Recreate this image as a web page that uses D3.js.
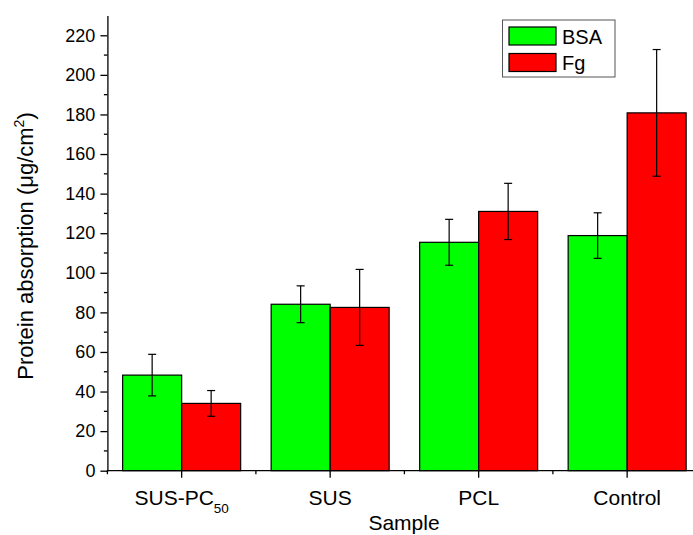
<!DOCTYPE html>
<html><head><meta charset="utf-8">
<script src="https://cdn.jsdelivr.net/npm/d3@7"></script>
<style>body{margin:0;background:#fff}svg{display:block}text{font-family:"Liberation Sans",Arial,sans-serif;fill:#000}</style>
</head><body><svg id="c" width="693" height="535"></svg>
<script>
const categories = ["SUS-PC50", "SUS", "PCL", "Control"];
const series = ["BSA", "Fg"];
const bsaValues = [48.3, 84.1, 115.4, 118.8];
const bsaErrors = [10.5, 9.3, 11.6, 11.5];
const fgValues = [34.0, 82.5, 131.0, 180.8];
const fgErrors = [6.5, 19.2, 14.2, 32.0];
const yTicks = [0, 20, 40, 60, 80, 100, 120, 140, 160, 180, 200, 220];
const colors = {BSA: "#00ff00", Fg: "#ff0000"};

const svg = d3.select("#c");
const mLeft = 107.4, mBottom = 470.7, mTop = 15.5;
const bandW = 148.5;
const x = d3.scaleBand().domain(categories).range([mLeft, mLeft + bandW * categories.length]).padding(0);
const inner = 118;
const x1 = d3.scaleBand().domain(series).range([(x.bandwidth() - inner) / 2, (x.bandwidth() + inner) / 2]).padding(0);
const y = d3.scaleLinear().domain([0, 230]).range([mBottom, mTop]);

const data = categories.map((c, i) => ({
  cat: c,
  vals: [
    {s: "BSA", v: bsaValues[i], e: bsaErrors[i]},
    {s: "Fg", v: fgValues[i], e: fgErrors[i]}
  ]
}));

const g = svg.append("g");
const groups = g.selectAll("g.grp").data(data).join("g")
  .attr("transform", d => `translate(${x(d.cat)},0)`);
groups.selectAll("rect").data(d => d.vals).join("rect")
  .attr("x", d => x1(d.s)).attr("width", x1.bandwidth())
  .attr("y", d => y(d.v)).attr("height", d => y(0) - y(d.v))
  .attr("fill", d => colors[d.s]).attr("stroke", "#000").attr("stroke-width", 1.2);
const eb = groups.selectAll("g.eb").data(d => d.vals).join("g").attr("class", "eb")
  .attr("transform", d => `translate(${x1(d.s) + x1.bandwidth() / 2},0)`);
eb.append("line").attr("y1", d => y(d.v + d.e)).attr("y2", d => y(d.v - d.e)).attr("stroke", "#000").attr("stroke-width", 1.2);
eb.append("line").attr("x1", -4).attr("x2", 4).attr("y1", d => y(d.v + d.e)).attr("y2", d => y(d.v + d.e)).attr("stroke", "#000").attr("stroke-width", 1.2);
eb.append("line").attr("x1", -4).attr("x2", 4).attr("y1", d => y(d.v - d.e)).attr("y2", d => y(d.v - d.e)).attr("stroke", "#000").attr("stroke-width", 1.2);

// Y axis
const yMinor = d3.range(10, 230, 20);
const yAx = svg.append("g").attr("transform", `translate(${mLeft},0)`);
yAx.call(d3.axisLeft(y).tickValues(yTicks).tickSize(7).tickSizeOuter(0).tickPadding(5))
  .call(a => a.select(".domain").attr("stroke-width", 1.3))
  .call(a => a.selectAll(".tick line").attr("stroke-width", 1.3))
  .call(a => a.selectAll(".tick text").attr("font-size", 18).style("font-family", "Liberation Sans, Arial, sans-serif"));
yAx.selectAll("line.minor").data(yMinor).join("line").attr("class", "minor")
  .attr("x1", -3.5).attr("x2", 0).attr("y1", d => y(d)).attr("y2", d => y(d)).attr("stroke", "#000").attr("stroke-width", 1.3);

// X axis
const xAx = svg.append("g").attr("transform", `translate(0,${mBottom})`);
xAx.append("line").attr("x1", mLeft - 0.6).attr("x2", 693).attr("stroke", "#000").attr("stroke-width", 1.3);
xAx.selectAll("line.major").data(categories).join("line").attr("class", "major")
  .attr("x1", d => x(d) + x.bandwidth() / 2).attr("x2", d => x(d) + x.bandwidth() / 2)
  .attr("y1", 0).attr("y2", 7).attr("stroke", "#000").attr("stroke-width", 1.3);
xAx.selectAll("line.minor").data(categories).join("line").attr("class", "minor")
  .attr("x1", d => x(d)).attr("x2", d => x(d))
  .attr("y1", 0).attr("y2", 3.5).attr("stroke", "#000").attr("stroke-width", 1.3);
const labels = xAx.selectAll("text.cl").data(categories).join("text").attr("class", "cl")
  .attr("x", d => x(d) + x.bandwidth() / 2).attr("y", 505 - mBottom).attr("text-anchor", "middle").attr("font-size", 21);
labels.each(function(d) {
  const t = d3.select(this);
  const m = d.match(/^(.*?)(\d+)$/);
  if (m) {
    t.append("tspan").text(m[1]);
    t.append("tspan").text(m[2]).attr("font-size", 13.5).attr("dy", 8);
  } else t.text(d);
});

// Axis titles
svg.append("text").attr("x", 404).attr("y", 530).attr("text-anchor", "middle").attr("font-size", 21).text("Sample");
const yt = svg.append("text").attr("transform", `translate(33,246) rotate(-90)`).attr("text-anchor", "middle").attr("font-size", 22);
yt.append("tspan").text("Protein absorption (μg/cm");
yt.append("tspan").text("2").attr("font-size", 14).attr("dy", -9);
yt.append("tspan").text(")").attr("dy", 9);

// Legend
const lg = svg.append("g");
lg.append("rect").attr("x", 502.5).attr("y", 20).attr("width", 112.5).attr("height", 57).attr("fill", "#fff").attr("stroke", "#555").attr("stroke-width", 1);
series.forEach((s, i) => {
  lg.append("rect").attr("x", 509).attr("y", 27 + i * 26.5).attr("width", 47).attr("height", 18)
    .attr("fill", colors[s]).attr("stroke", "#000").attr("stroke-width", 1.2);
  lg.append("text").attr("x", 562).attr("y", 43.5 + i * 26.5).attr("font-size", 20).text(s);
});
</script></body></html>
